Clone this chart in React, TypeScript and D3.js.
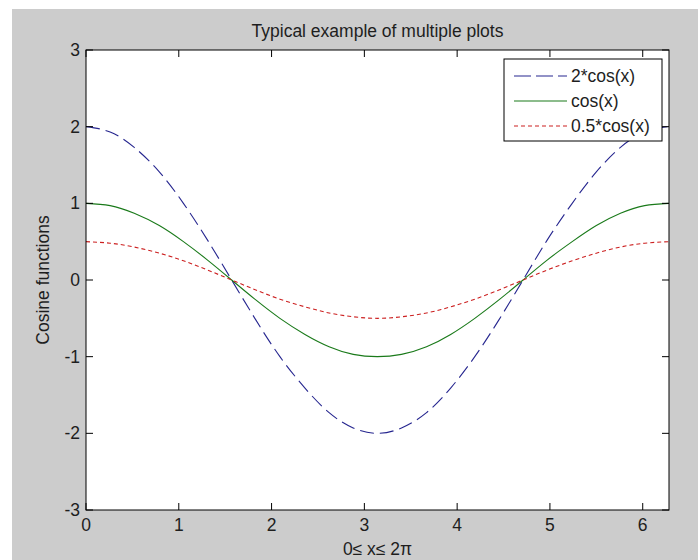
import React from "react";
import * as d3 from "d3";

const xs = [0, 0.26, 0.52, 0.79, 1.05, 1.31, 1.57, 1.83, 2.09, 2.36, 2.62, 2.88, 3.14, 3.4, 3.67, 3.93, 4.19, 4.45, 4.71, 4.97, 5.24, 5.5, 5.76, 6.02, 6.28];
const twoCos = [2, 1.93, 1.73, 1.41, 1, 0.52, 0, -0.52, -1, -1.41, -1.73, -1.93, -2, -1.93, -1.73, -1.41, -1, -0.52, 0, 0.52, 1, 1.41, 1.73, 1.93, 2];
const oneCos = [1, 0.97, 0.87, 0.71, 0.5, 0.26, 0, -0.26, -0.5, -0.71, -0.87, -0.97, -1, -0.97, -0.87, -0.71, -0.5, -0.26, 0, 0.26, 0.5, 0.71, 0.87, 0.97, 1];
const halfCos = [0.5, 0.48, 0.43, 0.35, 0.25, 0.13, 0, -0.13, -0.25, -0.35, -0.43, -0.48, -0.5, -0.48, -0.43, -0.35, -0.25, -0.13, 0, 0.13, 0.25, 0.35, 0.43, 0.48, 0.5];
const seriesNames = ["2*cos(x)", "cos(x)", "0.5*cos(x)"];
const xTicks = [0, 1, 2, 3, 4, 5, 6];
const yTicks = [-3, -2, -1, 0, 1, 2, 3];
const title = "Typical example of multiple plots";
const xLabel = "0\u2264 x\u2264 2\u03c0";
const yLabel = "Cosine functions";

const W = 698, H = 560;
const L = 86, R = 669, T = 50, B = 510;
const FONT = "'Liberation Sans', Arial, sans-serif";
const FS = 17.5;
const TXT = "#1e1e1e";

const styles = [
  { color: "#26268f", dash: "14,6" },
  { color: "#1a7a1a", dash: "none" },
  { color: "#cc2020", dash: "4,3" },
];

export default function App() {
  const x = d3.scaleLinear().domain([0, 2 * Math.PI]).range([L, R]);
  const y = d3.scaleLinear().domain([-3, 3]).range([B, T]);
  const data = [twoCos, oneCos, halfCos];
  const line = d3
    .line<number>()
    .x((_, i) => x(xs[i]))
    .y((d) => y(d))
    .curve(d3.curveNatural);
  const tl = 7;
  const lg = { x: 504, y: 59, w: 158, h: 82 };
  return (
    <svg width={W} height={H} style={{ position: "absolute", left: 0, top: 0 }}>
      <rect x={0} y={0} width={W} height={H} fill="#ffffff" />
      <rect x={12} y={9} width={W - 12} height={H - 9} fill="#cccccc" />
      <rect x={L} y={T} width={R - L} height={B - T} fill="#ffffff" />
      <defs>
        <clipPath id="plotclip">
          <rect x={L} y={T} width={R - L} height={B - T} />
        </clipPath>
      </defs>
      <g clipPath="url(#plotclip)">
        {data.map((d, k) => (
          <path
            key={k}
            d={line(d) || ""}
            fill="none"
            stroke={styles[k].color}
            strokeWidth={1.1}
            strokeDasharray={styles[k].dash}
          />
        ))}
      </g>
      {xTicks.map((t) => (
        <g key={"xt" + t}>
          <line x1={x(t)} x2={x(t)} y1={B} y2={B - tl} stroke="#000" />
          <line x1={x(t)} x2={x(t)} y1={T} y2={T + tl} stroke="#000" />
          <text x={x(t)} y={531} fontSize={FS} fontFamily={FONT} fill={TXT} textAnchor="middle">
            {t}
          </text>
        </g>
      ))}
      {yTicks.map((t) => (
        <g key={"yt" + t}>
          <line x1={L} x2={L + tl} y1={y(t)} y2={y(t)} stroke="#000" />
          <line x1={R} x2={R - tl} y1={y(t)} y2={y(t)} stroke="#000" />
          <text x={80} y={y(t)} dy="0.35em" fontSize={FS} fontFamily={FONT} fill={TXT} textAnchor="end">
            {t}
          </text>
        </g>
      ))}
      <rect x={L} y={T} width={R - L} height={B - T} fill="none" stroke="#000" strokeWidth={1} />
      <rect x={lg.x} y={lg.y} width={lg.w} height={lg.h} fill="#ffffff" stroke="#000" strokeWidth={1} />
      {seriesNames.map((n, k) => {
        const yy = 76 + k * 25;
        return (
          <g key={n}>
            <line x1={514} x2={567} y1={yy} y2={yy} stroke={styles[k].color} strokeWidth={1.1} strokeDasharray={k === 0 ? "17,5" : styles[k].dash} />
            <text x={571} y={yy} dy="0.35em" fontSize={FS} fontFamily={FONT} fill={TXT}>
              {n}
            </text>
          </g>
        );
      })}
      <text x={(L + R) / 2} y={37} fontSize={FS} fontFamily={FONT} fill={TXT} textAnchor="middle">
        {title}
      </text>
      <text x={(L + R) / 2} y={555} fontSize={FS} fontFamily={FONT} fill={TXT} textAnchor="middle">
        {xLabel}
      </text>
      <text
        transform={`translate(49,${(T + B) / 2}) rotate(-90)`}
        fontSize={FS}
        fontFamily={FONT}
        fill={TXT}
        textAnchor="middle"
      >
        {yLabel}
      </text>
    </svg>
  );
}
